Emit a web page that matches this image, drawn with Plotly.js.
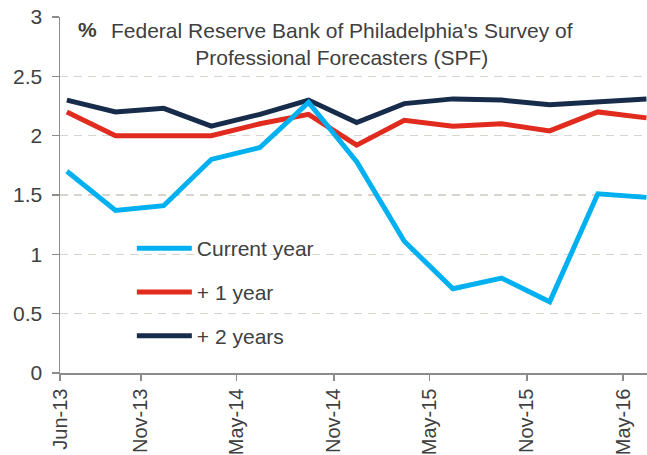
<!DOCTYPE html>
<html>
<head>
<meta charset="utf-8">
<script src="https://cdn.plot.ly/plotly-3.0.1.min.js"></script>
<style>html,body{margin:0;padding:0;background:#fff;}#chart{width:647px;height:455px;}</style>
</head>
<body>
<div id="chart"></div>
<script>
var dates = ['2013-06-14','2013-09-14','2013-12-14','2014-03-14','2014-06-14','2014-09-14','2014-12-14','2015-03-14','2015-06-14','2015-09-14','2015-12-14','2016-03-14','2016-06-14'];
var currentYear = [1.70,1.37,1.41,1.80,1.90,2.28,1.78,1.11,0.71,0.80,0.60,1.51,1.48];
var plusOneYear = [2.20,2.00,2.00,2.00,2.10,2.18,1.92,2.13,2.08,2.10,2.04,2.20,2.15];
var plusTwoYears = [2.30,2.20,2.23,2.08,2.18,2.30,2.11,2.27,2.31,2.30,2.26,2.29,2.31];
var tickDates = ['2013-06-01','2013-11-01','2014-05-01','2014-11-01','2015-05-01','2015-11-01','2016-05-01'];
var tickLabels = ['Jun-13','Nov-13','May-14','Nov-14','May-15','Nov-15','May-16'];
var seriesNames = ['Current year','+ 1 year','+ 2 years'];
var colors = ['#00B0F0','#E02B1E','#172B4B'];

var font = 'Liberation Sans, Arial, sans-serif';
var series = [currentYear, plusOneYear, plusTwoYears];
var traces = [];
for (var i = 2; i >= 0; i--) {
  traces.push({
    x: dates, y: series[i], name: seriesNames[i], type: 'scatter', mode: 'lines',
    line: {color: colors[i], width: 5}, legendgroup: 'g' + i, legendrank: i + 1,
    cliponaxis: true, hoverinfo: 'skip'
  });
}

var layout = {
  width: 647, height: 455,
  margin: {l: 60, r: 0, t: 17, b: 82},
  paper_bgcolor: '#fff', plot_bgcolor: '#fff',
  font: {family: font, color: '#404040', size: 21},
  showlegend: true,
  legend: {
    x: 0.1224, y: 0.407, xanchor: 'left', yanchor: 'top',
    bgcolor: 'rgba(0,0,0,0)', font: {size: 21, color: '#404040'},
    traceorder: 'grouped', tracegroupgap: 13.5, itemwidth: 55
  },
  xaxis: {
    type: 'date', range: ['2013-06-01', '2016-06-15'],
    tickmode: 'array', tickvals: tickDates, ticktext: tickLabels,
    tickangle: -90, ticks: 'outside', ticklen: 6, tickcolor: '#8c8c8c', tickwidth: 1.5,
    showline: true, linecolor: '#8c8c8c', linewidth: 1.5,
    showgrid: false, zeroline: false,
    tickfont: {size: 20, color: '#404040'}
  },
  yaxis: {
    range: [0, 3], tickvals: [0, 0.5, 1, 1.5, 2, 2.5, 3], ticktext: ['0','0.5','1','1.5','2','2.5','3'],
    ticks: 'outside', ticklen: 7, tickcolor: '#8c8c8c', tickwidth: 1.5, ticklabelstandoff: 5,
    showline: true, linecolor: '#8c8c8c', linewidth: 1.5,
    showgrid: true, gridcolor: '#d8d4ce', gridwidth: 1.5, griddash: '8px,6px',
    zeroline: false, tickfont: {size: 21, color: '#404040'}
  },
  annotations: [
    {text: '<b>%</b>', xref: 'paper', yref: 'paper', x: 0.027, y: 0.966, xanchor: 'left', yanchor: 'middle',
     showarrow: false, font: {size: 21, color: '#404040'}},
    {text: "Federal Reserve Bank of Philadelphia's Survey of<br>Professional Forecasters (SPF)",
     xref: 'paper', yref: 'paper', x: 0.48, y: 1.0, xanchor: 'center', yanchor: 'top',
     showarrow: false, align: 'center', font: {size: 21, color: '#404040'}}
  ]
};
Plotly.newPlot('chart', traces, layout, {displayModeBar: false, staticPlot: true});
</script>
</body>
</html>
